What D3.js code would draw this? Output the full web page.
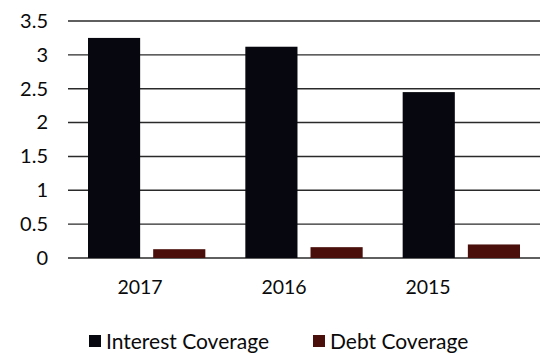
<!DOCTYPE html>
<html><head><meta charset="utf-8">
<script src="https://cdn.jsdelivr.net/npm/d3@7"></script>
<style>body{margin:0;background:#fff;}svg{display:block;}</style>
</head><body>
<script>
const categories = ["2017", "2016", "2015"];
const seriesNames = ["Interest Coverage", "Debt Coverage"];
const interestCoverage = [3.25, 3.12, 2.45];
const debtCoverage = [0.13, 0.16, 0.2];
const yTicks = [0, 0.5, 1, 1.5, 2, 2.5, 3, 3.5];
const colors = ["#07070f", "#4a0f0b"];

const W = 540, H = 354;
const svg = d3.select("body").append("svg").attr("width", W).attr("height", H);
const font = "Lato, 'Open Sans', sans-serif";

const y = d3.scaleLinear().domain([0, 3.5]).range([258, 21]);
const x0 = d3.scaleBand().domain(categories).range([68, 540]).paddingInner(0).paddingOuter(0);
const x1 = d3.scaleBand().domain(seriesNames).range([20, x0.bandwidth() - 20]).paddingInner(0.2);
const xLabel = d3.scaleBand().domain(categories).range([68, 500]);

// gridlines
svg.append("g").selectAll("line").data(yTicks).join("line")
  .attr("x1", 68).attr("x2", 540)
  .attr("y1", d => y(d)).attr("y2", d => y(d))
  .attr("stroke", "#2a2a2a").attr("stroke-width", 1.4);

// y axis labels
const yAxis = d3.axisLeft(y).tickValues(yTicks).tickSize(0).tickPadding(0)
  .tickFormat(d => String(d));
const ya = svg.append("g").attr("transform", "translate(48,0)").call(yAxis);
ya.select(".domain").remove();
ya.selectAll("text").attr("font-family", font).attr("font-size", 20).attr("fill", "#0a0a0a");

// bars
const data = categories.map((c, i) => ({cat: c, vals: [interestCoverage[i], debtCoverage[i]]}));
const g = svg.append("g").selectAll("g").data(data).join("g")
  .attr("transform", d => `translate(${x0(d.cat)},0)`);
g.selectAll("rect").data(d => d.vals.map((v, j) => ({name: seriesNames[j], v, j})))
  .join("rect")
  .attr("x", d => x1(d.name)).attr("width", x1.bandwidth())
  .attr("y", d => y(d.v)).attr("height", d => y(0) - y(d.v))
  .attr("fill", d => colors[d.j]);

// x labels
const xAxis = d3.axisBottom(xLabel).tickSize(0).tickPadding(0);
const xa = svg.append("g").attr("transform", "translate(0,280)").call(xAxis);
xa.select(".domain").remove();
xa.selectAll("text").attr("font-family", font).attr("font-size", 19.5).attr("fill", "#0a0a0a");

// legend
const legendX = d3.scalePoint().domain(seriesNames).range([89, 313]);
const lg = svg.append("g").selectAll("g").data(seriesNames).join("g")
  .attr("transform", d => `translate(${legendX(d)},335)`);
lg.append("rect").attr("width", 12).attr("height", 12).attr("fill", (d, i) => colors[i]);
lg.append("text").attr("x", 17).attr("y", 14).text(d => d)
  .attr("font-family", font).attr("font-size", 21).attr("fill", "#0a0a0a");
</script>
</body></html>
